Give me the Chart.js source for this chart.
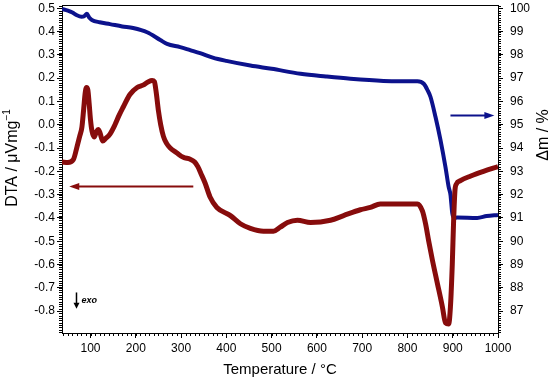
<!DOCTYPE html>
<html>
<head>
<meta charset="utf-8">
<script src="https://cdn.jsdelivr.net/npm/chart.js@4/dist/chart.umd.min.js"></script>
<style>
  html, body { margin: 0; padding: 0; background: #fff; }
  #wrap { width: 550px; height: 383px; position: relative; }
</style>
</head>
<body>
<div id="wrap"><canvas id="c"></canvas></div>
<script>
// DTA curve (left axis, µV/mg)
const dtaTemp = [37, 50, 62, 70, 76, 81, 85, 88, 91, 94, 97, 100, 103, 108, 113, 117, 121, 127, 133, 143, 154, 163, 172, 187, 203, 216, 228, 236, 241, 245, 250, 255, 261, 268, 276, 290, 305, 320, 330, 337, 344, 353, 364, 379, 409, 431, 453, 482, 504, 519, 535, 557, 586, 630, 659, 696, 718, 740, 778, 822, 833, 840, 847, 855, 866, 877, 884, 891, 895, 899, 902, 905, 908, 917, 940, 968, 1000]
const dtaValues = [-0.16, -0.162, -0.15, -0.096, -0.05, -0.01, 0.07, 0.133, 0.16, 0.15, 0.09, 0.02, -0.025, -0.053, -0.03, -0.02, -0.035, -0.07, -0.06, -0.04, 0.0, 0.04, 0.075, 0.13, 0.16, 0.17, 0.185, 0.19, 0.185, 0.14, 0.06, 0.0, -0.05, -0.08, -0.1, -0.12, -0.14, -0.148, -0.16, -0.18, -0.21, -0.25, -0.31, -0.355, -0.39, -0.425, -0.445, -0.457, -0.457, -0.44, -0.42, -0.41, -0.42, -0.41, -0.39, -0.365, -0.355, -0.34, -0.34, -0.34, -0.37, -0.425, -0.5, -0.58, -0.68, -0.78, -0.85, -0.855, -0.78, -0.6, -0.41, -0.28, -0.255, -0.24, -0.22, -0.2, -0.18]

// mass curve (right axis, %)
const tgTemp = [37, 50, 60, 70, 80, 86, 92, 97, 103, 120, 143, 170, 194, 225, 254, 269, 298, 320, 342, 370, 400, 453, 500, 564, 620, 674, 747, 790, 822, 836, 844, 851, 862, 873, 884, 891, 895, 899, 903, 910, 954, 975, 1000]
const tgValues = [99.97, 99.9, 99.82, 99.7, 99.64, 99.66, 99.76, 99.6, 99.5, 99.4, 99.32, 99.22, 99.15, 98.97, 98.64, 98.47, 98.33, 98.2, 98.07, 97.88, 97.74, 97.54, 97.4, 97.19, 97.07, 96.97, 96.88, 96.87, 96.87, 96.76, 96.5, 96.19, 95.33, 94.34, 93.18, 92.33, 92.0, 91.2, 91.0, 91.02, 91.0, 91.08, 91.13]

const tempTicks = [100, 200, 300, 400, 500, 600, 700, 800, 900, 1000]
const dtaTicks = [-0.8, -0.7, -0.6, -0.5, -0.4, -0.3, -0.2, -0.1, 0.0, 0.1, 0.2, 0.3, 0.4, 0.5]
const massTicks = [87, 88, 89, 90, 91, 92, 93, 94, 95, 96, 97, 98, 99, 100]

const red = 'rgb(135,12,12)'
const blue = 'rgb(12,18,140)'
const FONT = '"Liberation Sans", Arial, sans-serif'

function toPoints(xs, ys){
  return xs.map((x, i) => ({ x: x, y: ys[i] }))
}

// drop the extra room chart.js keeps for half tick labels
function noPad(s){
  s.paddingTop = 0
  s.paddingBottom = 0
  s.paddingLeft = 0
  s.paddingRight = 0
}

// minor ticks, frame top, arrows, y titles, exo marker
const extras = {
  id: 'extras',
  afterDraw(chart){
    const ctx = chart.ctx
    const a = chart.chartArea
    const sx = chart.scales.x, sy = chart.scales.y, sy1 = chart.scales.y1
    ctx.save()
    ctx.strokeStyle = '#000'
    ctx.lineWidth = 1
    // top frame line
    ctx.beginPath()
    ctx.moveTo(a.left, a.top + 0.5)
    ctx.lineTo(a.right, a.top + 0.5)
    ctx.stroke()
    // minor ticks
    ctx.beginPath()
    for (let t = 40; t <= 1000; t += 10){
      const px = Math.round(sx.getPixelForValue(t)) + 0.5
      ctx.moveTo(px, a.bottom); ctx.lineTo(px, a.bottom + 3)
    }
    for (let v = -89; v <= 51; v += 1){
      const py = Math.round(sy.getPixelForValue(v / 100)) + 0.5
      if (py < a.top || py > a.bottom) continue
      ctx.moveTo(a.left, py); ctx.lineTo(a.left - 3, py)
    }
    for (let v = 861; v <= 1001; v += 1){
      const py = Math.round(sy1.getPixelForValue(v / 10)) + 0.5
      if (py < a.top || py > a.bottom) continue
      ctx.moveTo(a.right, py); ctx.lineTo(a.right + 3, py)
    }
    ctx.stroke()

    // red arrow -> left axis
    const ry = sy.getPixelForValue(-0.265)
    const rx0 = sx.getPixelForValue(327), rx1 = sx.getPixelForValue(53)
    ctx.strokeStyle = red; ctx.fillStyle = red; ctx.lineWidth = 2
    ctx.beginPath(); ctx.moveTo(rx0, ry); ctx.lineTo(rx1 + 8, ry); ctx.stroke()
    ctx.beginPath(); ctx.moveTo(rx1, ry); ctx.lineTo(rx1 + 10, ry - 3.5); ctx.lineTo(rx1 + 10, ry + 3.5); ctx.closePath(); ctx.fill()

    // blue arrow -> right axis
    const by = sy1.getPixelForValue(95.4)
    const bx0 = sx.getPixelForValue(895), bx1 = sx.getPixelForValue(992)
    ctx.strokeStyle = blue; ctx.fillStyle = blue
    ctx.beginPath(); ctx.moveTo(bx0, by); ctx.lineTo(bx1 - 8, by); ctx.stroke()
    ctx.beginPath(); ctx.moveTo(bx1, by); ctx.lineTo(bx1 - 10, by - 3.5); ctx.lineTo(bx1 - 10, by + 3.5); ctx.closePath(); ctx.fill()

    // exo marker
    const ex = sx.getPixelForValue(69)
    const ey0 = sy.getPixelForValue(-0.72), ey1 = sy.getPixelForValue(-0.79)
    ctx.strokeStyle = '#000'; ctx.fillStyle = '#000'; ctx.lineWidth = 1.5
    ctx.beginPath(); ctx.moveTo(ex, ey0); ctx.lineTo(ex, ey1 - 4); ctx.stroke()
    ctx.beginPath(); ctx.moveTo(ex, ey1); ctx.lineTo(ex - 3, ey1 - 6); ctx.lineTo(ex + 3, ey1 - 6); ctx.closePath(); ctx.fill()
    ctx.font = 'italic bold 9px ' + FONT
    ctx.textBaseline = 'middle'
    ctx.fillText('exo', ex + 5, (ey0 + ey1) / 2)

    // left axis title with superscript, read bottom to top
    ctx.save()
    ctx.translate(13, 158)
    ctx.rotate(-Math.PI / 2)
    ctx.textBaseline = 'middle'
    ctx.font = '16px ' + FONT
    const main = 'DTA / \u03bcVmg'
    const sup = '\u22121'
    const wMain = ctx.measureText(main).width
    ctx.font = '10px ' + FONT
    const wSup = ctx.measureText(sup).width
    const start = -(wMain + wSup) / 2
    ctx.font = '16px ' + FONT
    ctx.textAlign = 'left'
    ctx.fillText(main, start, 0)
    ctx.font = '10px ' + FONT
    ctx.fillText(sup, start + wMain, -6)
    ctx.restore()

    // right axis title, read bottom to top
    ctx.translate(544, 135)
    ctx.rotate(-Math.PI / 2)
    ctx.font = '16px ' + FONT
    ctx.textAlign = 'center'
    ctx.textBaseline = 'middle'
    ctx.fillText('\u0394m / %', 0, 0)
    ctx.restore()
  }
}

new Chart(document.getElementById('c'), {
  type: 'line',
  data: {
    datasets: [{
      label: 'DTA',
      data: toPoints(dtaTemp, dtaValues),
      yAxisID: 'y',
      borderColor: red,
      borderWidth: 5,
      pointRadius: 0,
      cubicInterpolationMode: 'monotone',
      fill: false
    }, {
      label: 'TG',
      data: toPoints(tgTemp, tgValues),
      yAxisID: 'y1',
      borderColor: blue,
      borderWidth: 4,
      pointRadius: 0,
      cubicInterpolationMode: 'monotone',
      fill: false
    }]
  },
  options: {
    responsive: true,
    maintainAspectRatio: false,
    animation: false,
    layout: { padding: { top: 5, left: 0, right: 0, bottom: 0 } },
    plugins: { legend: { display: false }, tooltip: { enabled: false } },
    scales: {
      x: {
        type: 'linear',
        min: 37, max: 1000,
        afterBuildTicks: s => { s.ticks = tempTicks.map(v => ({ value: v })) },
        afterFit: s => { s.height = 50; noPad(s) },
        grid: { drawOnChartArea: false, tickLength: 5, color: '#000' },
        border: { color: '#000', width: 1 },
        ticks: { color: '#000', font: { family: FONT, size: 12 }, padding: 3, maxRotation: 0, callback: v => String(v) },
        title: { display: true, text: 'Temperature / °C', color: '#000', font: { family: FONT, size: 15 }, padding: { top: 4 } }
      },
      y: {
        position: 'left',
        min: -0.894, max: 0.514,
        afterBuildTicks: s => { s.ticks = dtaTicks.map(v => ({ value: v })) },
        afterFit: s => { s.width = 62; noPad(s) },
        grid: { drawOnChartArea: false, tickLength: 5, color: '#000' },
        border: { color: '#000', width: 1 },
        ticks: { color: '#000', font: { family: FONT, size: 12 }, padding: 2, callback: v => v.toFixed(1) }
      },
      y1: {
        position: 'right',
        min: 86.06, max: 100.14,
        afterBuildTicks: s => { s.ticks = massTicks.map(v => ({ value: v })) },
        afterFit: s => { s.width = 52; noPad(s) },
        grid: { drawOnChartArea: false, tickLength: 5, color: '#000' },
        border: { color: '#000', width: 1 },
        ticks: { color: '#000', font: { family: FONT, size: 12 }, padding: 7 }
      }
    }
  },
  plugins: [extras]
})
</script>
</body>
</html>
